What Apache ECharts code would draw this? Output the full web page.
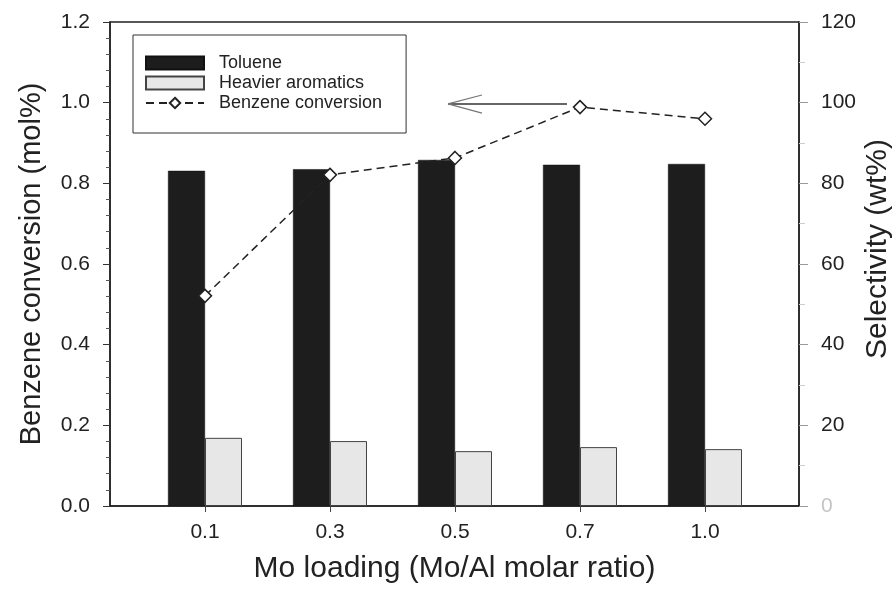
<!DOCTYPE html>
<html>
<head>
<meta charset="utf-8">
<script src="https://cdn.jsdelivr.net/npm/echarts@6/dist/echarts.min.js"></script>
<style>
  html, body { margin: 0; padding: 0; background: #fff; }
  #chart { width: 895px; height: 589px; }
</style>
</head>
<body>
<div id="chart"></div>
<script>
// Mo loading categories (Mo/Al molar ratio)
const categories = ['0.1', '0.3', '0.5', '0.7', '1.0'];
// Selectivity, wt% (right axis)
const toluene = [83.1, 83.5, 85.8, 84.6, 84.8];
const heavierAromatics = [16.9, 16.1, 13.6, 14.6, 14.1];
// Benzene conversion, mol% (left axis)
const benzeneConversion = [0.521, 0.821, 0.863, 0.989, 0.960];
// Arrow pointing toward the left axis: shaft, then the two head strokes (data coordinates)
const arrowShaft = [[2.896, 0.997], [1.944, 0.997]];
const arrowHead = [[[1.944, 0.997], [2.216, 1.019]], [[1.944, 0.997], [2.216, 0.974]]];

const FONT = 'Liberation Sans, Arial, Helvetica, sans-serif';
const idx = categories.map((_, i) => i);
const pair = (arr) => arr.map((v, i) => [i, v]);

const chart = echarts.init(document.getElementById('chart'), null, { renderer: 'canvas' });

chart.setOption({
  animation: false,
  backgroundColor: '#fff',
  textStyle: { fontFamily: FONT },
  grid: {
    left: 110, right: 96, top: 22, bottom: 83,
    containLabel: false, outerBoundsMode: 'none',
    show: true, borderColor: '#222', borderWidth: 1.5, backgroundColor: 'transparent'
  },
  legend: {
    orient: 'vertical',
    left: 133, top: 35,
    padding: [19, 24, 21, 12],
    itemGap: 2,
    itemWidth: 58, itemHeight: 13,
    borderColor: '#333', borderWidth: 1,
    textStyle: { fontSize: 18, color: '#222', fontFamily: FONT, padding: [0, 0, 0, 10] },
    data: [
      { name: 'Toluene', icon: 'rect' },
      { name: 'Heavier aromatics', icon: 'rect' },
      { name: 'Benzene conversion' }
    ]
  },
  xAxis: {
    type: 'value',
    min: -0.76, max: 4.752,
    name: 'Mo loading (Mo/Al molar ratio)',
    nameLocation: 'middle', nameGap: 48,
    nameTextStyle: { fontSize: 30, color: '#222', fontFamily: FONT },
    axisLine: { show: true, onZero: false, lineStyle: { color: '#222', width: 1.5 } },
    axisTick: { show: true, inside: false, length: 6, customValues: idx, lineStyle: { color: '#444' } },
    axisLabel: {
      customValues: idx, margin: 16, fontSize: 21, color: '#222', fontFamily: FONT,
      formatter: (v) => categories[Math.round(v)]
    },
    splitLine: { show: false }
  },
  yAxis: [
    {
      type: 'value', position: 'left',
      min: 0, max: 1.2, interval: 0.2,
      name: 'Benzene conversion (mol%)',
      nameLocation: 'middle', nameGap: 64,
      nameTextStyle: { fontSize: 29, color: '#222', fontFamily: FONT },
      axisLine: { show: true, onZero: false, lineStyle: { color: '#222', width: 1.5 } },
      axisTick: { show: true, inside: false, length: 7, lineStyle: { color: '#333' } },
      minorTick: { show: true, splitNumber: 5, length: 4, lineStyle: { color: '#555' } },
      axisLabel: { margin: 20, fontSize: 21, color: '#222', fontFamily: FONT, formatter: (v) => v.toFixed(1) },
      splitLine: { show: false }
    },
    {
      type: 'value', position: 'right',
      min: 0, max: 120, interval: 20,
      name: 'Selectivity (wt%)',
      nameLocation: 'middle', nameGap: 64, nameRotate: 90,
      nameMoveOverlap: false,
      nameTextStyle: { fontSize: 30, color: '#222', fontFamily: FONT, padding: [0, 0, 0, 30] },
      axisLine: { show: true, onZero: false, lineStyle: { color: '#222', width: 1.5 } },
      axisTick: { show: true, inside: false, length: 9, lineStyle: { color: '#999' } },
      minorTick: { show: true, splitNumber: 2, length: 6, lineStyle: { color: '#ccc' } },
      axisLabel: {
        margin: 22, fontSize: 21, fontFamily: FONT,
        color: (v) => (Number(v) === 0 ? '#c4c4c4' : '#222')
      },
      splitLine: { show: false }
    }
  ],
  series: [
    {
      name: 'Toluene', type: 'bar', yAxisIndex: 1,
      data: pair(toluene),
      barWidth: 37, barGap: '0%',
      itemStyle: { color: '#1d1d1d', borderColor: '#111', borderWidth: 0.5 }
    },
    {
      name: 'Heavier aromatics', type: 'bar', yAxisIndex: 1,
      data: pair(heavierAromatics),
      barWidth: 37, barGap: '0%',
      itemStyle: { color: '#e7e7e7', borderColor: '#444', borderWidth: 1 }
    },
    {
      name: 'Benzene conversion', type: 'line', yAxisIndex: 0,
      data: pair(benzeneConversion),
      symbol: 'diamond', symbolSize: 13,
      lineStyle: { color: '#222', width: 1.5, type: [8, 5] },
      itemStyle: { color: '#fff', borderColor: '#222', borderWidth: 1.5 },
      z: 5,
      markLine: {
        silent: true,
        symbol: ['none', 'none'],
        label: { show: false },
        lineStyle: { color: '#333', width: 1.5, type: 'solid' },
        data: [
          [{ coord: arrowShaft[0] }, { coord: arrowShaft[1] }],
          ...arrowHead.map(seg => [
            { coord: seg[0], lineStyle: { color: '#777', width: 1.2, type: 'solid' } },
            { coord: seg[1] }
          ])
        ]
      }
    }
  ]
});
</script>
</body>
</html>
